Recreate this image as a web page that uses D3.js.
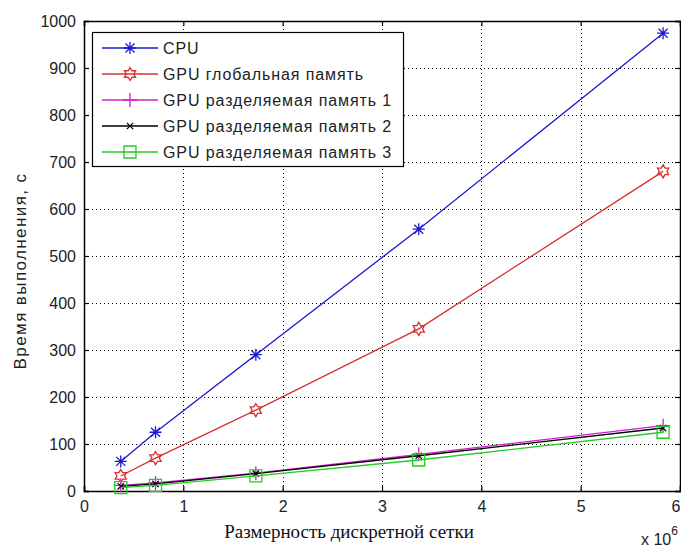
<!DOCTYPE html>
<html><head><meta charset="utf-8">
<script src="https://cdn.jsdelivr.net/npm/d3@7"></script>
<style>body{margin:0;background:#fff}svg{display:block}</style>
</head><body>
<script>
const xValues = [0.37, 0.72, 1.73, 3.37, 5.83];
const seriesNames = ["CPU", "GPU глобальная память", "GPU разделяемая память 1", "GPU разделяемая память 2", "GPU разделяемая память 3"];
const cpu = [63, 125, 290, 557, 974];
const gpuGlobal = [32, 70, 172, 345, 680];
const gpuShared1 = [12, 17, 38, 78, 139];
const gpuShared2 = [10, 15, 37, 75, 134];
const gpuShared3 = [7, 12, 32, 66, 125];
const xTicks = [0, 1, 2, 3, 4, 5, 6];
const yTicks = [0, 100, 200, 300, 400, 500, 600, 700, 800, 900, 1000];
const xLabel = "Размерность дискретной сетки";
const yLabel = "Время выполнения, с";

const W = 681, H = 547;
const L = 84, R = 680, T = 21, B = 491;
const svg = d3.select("body").append("svg").attr("width", W).attr("height", H);
const x = d3.scaleLinear().domain([0, 6]).range([L, R]);
const y = d3.scaleLinear().domain([0, 1000]).range([B, T]);

const series = [
  {name: seriesNames[0], values: cpu, color: "#1a1ad0", marker: "asterisk"},
  {name: seriesNames[1], values: gpuGlobal, color: "#d83030", marker: "hexagram"},
  {name: seriesNames[2], values: gpuShared1, color: "#d020d0", marker: "plus"},
  {name: seriesNames[3], values: gpuShared2, color: "#000000", marker: "x"},
  {name: seriesNames[4], values: gpuShared3, color: "#22cc22", marker: "square"}
];

// grid
const grid = svg.append("g").attr("stroke", "#000").attr("stroke-width", 1).attr("stroke-dasharray", "1,3");
xTicks.slice(1, -1).forEach(t => grid.append("line").attr("x1", Math.round(x(t)) + 0.5).attr("x2", Math.round(x(t)) + 0.5).attr("y1", T).attr("y2", B));
yTicks.slice(1, -1).forEach(t => grid.append("line").attr("y1", Math.round(y(t)) + 0.5).attr("y2", Math.round(y(t)) + 0.5).attr("x1", L).attr("x2", R));

// axes
const fontSans = "'Liberation Sans', Arial, sans-serif";
const xAxisB = d3.axisBottom(x).tickValues(xTicks).tickSize(-5).tickPadding(10).tickFormat(d3.format("d"));
const xAxisT = d3.axisTop(x).tickValues(xTicks).tickSize(-5).tickFormat("");
const yAxisL = d3.axisLeft(y).tickValues(yTicks).tickSize(-5).tickPadding(8).tickFormat(d3.format("d"));
const yAxisR = d3.axisRight(y).tickValues(yTicks).tickSize(-5).tickFormat("");
function styleAxis(g) {
  g.selectAll(".domain").attr("stroke", "#000").attr("stroke-width", 1.5);
  g.selectAll(".tick line").attr("stroke", "#000").attr("stroke-width", 1.2);
  g.selectAll("text").attr("font-family", fontSans).attr("font-size", 16).attr("fill", "#222");
}
const gxB = svg.append("g").attr("transform", `translate(0,${B})`).call(xAxisB).call(styleAxis);
gxB.selectAll(".tick text").filter(d => d === 6).attr("text-anchor", "end");
svg.append("g").attr("transform", `translate(0,${T})`).call(xAxisT).call(styleAxis);
svg.append("g").attr("transform", `translate(${L},0)`).call(yAxisL).call(styleAxis);
svg.append("g").attr("transform", `translate(${R},0)`).call(yAxisR).call(styleAxis);

// markers
function markerPath(type, s) {
  const h = s / 2;
  if (type === "asterisk") {
    const d = h * 0.75;
    return `M${-h},0H${h}M0,${-h}V${h}M${-d},${-d}L${d},${d}M${-d},${d}L${d},${-d}`;
  }
  if (type === "plus") return `M${-h},0H${h}M0,${-h}V${h}`;
  if (type === "x") { const d = h * 0.7; return `M${-d},${-d}L${d},${d}M${-d},${d}L${d},${-d}`; }
  if (type === "square") return `M${-h},${-h}H${h}V${h}H${-h}Z`;
  if (type === "hexagram") {
    const pts = [];
    for (let i = 0; i < 12; i++) {
      const r = i % 2 === 0 ? h : h * 0.58;
      const a = -Math.PI / 2 + i * Math.PI / 6;
      pts.push([r * Math.cos(a), r * Math.sin(a)]);
    }
    return "M" + pts.map(p => p[0].toFixed(2) + "," + p[1].toFixed(2)).join("L") + "Z";
  }
}
const markerSize = {asterisk: 12, hexagram: 13, plus: 14, x: 9, square: 12};

const line = d3.line().x((d, i) => x(xValues[i])).y(d => y(d));
series.forEach(s => {
  svg.append("path").datum(s.values).attr("d", line).attr("fill", "none").attr("stroke", s.color).attr("stroke-width", 1.3);
  svg.append("g").selectAll("path").data(s.values).join("path")
    .attr("transform", (d, i) => `translate(${x(xValues[i])},${y(d)})`)
    .attr("d", markerPath(s.marker, markerSize[s.marker]))
    .attr("fill", "none").attr("stroke", s.color).attr("stroke-width", 1.3);
});

// legend
const lg = svg.append("g");
lg.append("rect").attr("x", 92.5).attr("y", 32.5).attr("width", 311).attr("height", 134)
  .attr("fill", "#fff").attr("stroke", "#000").attr("stroke-width", 1.2);
series.forEach((s, i) => {
  const yy = 48 + i * 26;
  lg.append("line").attr("x1", 102).attr("x2", 158).attr("y1", yy).attr("y2", yy).attr("stroke", s.color).attr("stroke-width", 1.3);
  lg.append("path").attr("transform", `translate(130,${yy})`).attr("d", markerPath(s.marker, markerSize[s.marker]))
    .attr("fill", "none").attr("stroke", s.color).attr("stroke-width", 1.3);
  lg.append("text").attr("x", 163).attr("y", yy + 6).attr("font-family", fontSans).attr("font-size", 16)
    .attr("letter-spacing", 0.9).attr("fill", "#222").text(s.name);
});

// labels
svg.append("text").attr("x", 349).attr("y", 538).attr("text-anchor", "middle")
  .attr("font-family", "'Liberation Serif', 'Times New Roman', serif").attr("font-size", 19).attr("fill", "#111").text(xLabel);
svg.append("text").attr("transform", "translate(26,271) rotate(-90)").attr("text-anchor", "middle")
  .attr("font-family", fontSans).attr("font-size", 17).attr("letter-spacing", 1.4).attr("fill", "#222").text(yLabel);
const mult = svg.append("text").attr("x", 641).attr("y", 545).attr("font-family", fontSans).attr("font-size", 16).attr("fill", "#222");
mult.append("tspan").text("x 10");
mult.append("tspan").attr("dy", -10).attr("font-size", 12).text("6");
</script>
</body></html>
